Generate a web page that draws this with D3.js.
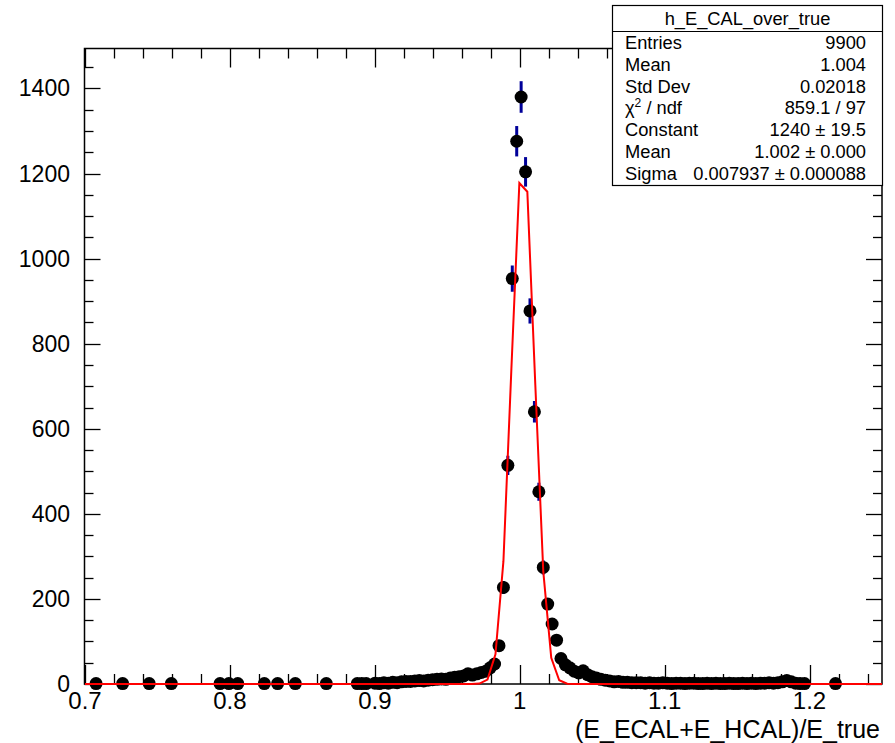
<!DOCTYPE html>
<html>
<head>
<meta charset="utf-8">
<script src="https://cdn.jsdelivr.net/npm/d3@7"></script>
<style>
  body { margin: 0; background: #fff; }
  text { font-family: "Liberation Sans", Arial, Helvetica, sans-serif; }
</style>
</head>
<body>
<div id="canvas"></div>
<script>
"use strict"

/* histogram definition */
const nBins = 180;
const xMin = 0.7;
const xMax = 1.25;

/* filled bins (index) and their contents */
const filledBins = [2, 8, 14, 19, 30, 32, 34, 40, 43, 47, 54, 61, 62, 63,
    65, 66, 67, 68, 69, 70, 71, 72, 73, 74, 75, 76, 77, 78, 79, 80, 81, 82, 83, 84, 85, 86, 87, 88, 89, 90, 91,
    92, 93, 94, 95, 96, 97, 98, 99, 100, 101, 102, 103, 104, 105, 106, 107,
    108, 109, 110, 111, 112, 113, 114, 115, 116, 117, 118, 119, 120, 121, 122, 123, 124, 125, 126, 127, 128, 129,
    130, 131, 132, 133, 134, 135, 136, 137, 138, 139, 140, 141, 142, 143, 144, 145, 146, 147, 148, 149,
    150, 151, 152, 153, 154, 155, 156, 157, 158, 159, 160, 161, 162, 169];
const counts = [1, 1, 1, 1, 1, 1, 1, 1, 1, 1, 1, 1, 1, 1,
    2, 1, 3, 2, 4, 3, 5, 6, 6, 7, 8, 7, 9, 10, 11, 12, 11, 14, 16, 17, 19, 24, 21, 24, 27, 30, 38,
    47, 90, 227, 514, 953, 1276, 1380, 1204, 877, 640, 452, 274, 188, 141, 103, 60,
    45, 38, 30, 26, 31, 22, 17, 14, 11, 9, 7, 5, 6, 4, 4, 3, 3, 3, 2, 3, 2, 2,
    3, 2, 1, 2, 2, 1, 2, 2, 1, 1, 2, 1, 2, 1, 1, 2, 1, 1, 2, 1,
    2, 1, 2, 2, 3, 2, 3, 5, 8, 5, 2, 1, 1, 1];

/* gaussian fit result: constant, mean, sigma */
const fitParams = [1240, 1.0023, 0.007937];
const fitNpx = 100;

/* axis ticks */
const xMajor = [0.7, 0.8, 0.9, 1.0, 1.1, 1.2];
const xLabels = ["0.7", "0.8", "0.9", "1", "1.1", "1.2"];
const yMajor = [0, 200, 400, 600, 800, 1000, 1200, 1400];

/* stat box */
const statTitle = "h_E_CAL_over_true";
const statNames = ["Entries", "Mean", "Std Dev", "chi2", "Constant", "Mean", "Sigma"];
const statValues = ["9900", "1.004", "0.02018", "859.1 / 97", "1240 \u00b1 19.5", "1.002 \u00b1 0.000", "0.007937 \u00b1 0.000088"];

const W = 895, H = 743;
const frameL = 84.5, frameR = 882, frameT = 48.5, frameB = 684;

let drawing = d3.select("#canvas")
    .append("svg")
    .attr("width", W)
    .attr("height", H);

let x = d3.scaleLinear().domain([xMin, xMax]).range([85, frameR]);
let y = d3.scaleLinear().domain([0, 1494]).range([frameB, frameT]);

//frame
drawing.append("rect")
    .attr("x", frameL).attr("y", frameT)
    .attr("width", frameR - frameL).attr("height", frameB - frameT)
    .attr("fill", "none").attr("stroke", "black").attr("stroke-width", 1.5);

//ticks on all four sides
let xMinor = d3.range(0, 28).map(k => xMin + k * 0.02);
let yMinor = d3.range(0, 30).map(k => k * 50);

let tickGroup = drawing.append("g").attr("stroke", "black").attr("stroke-width", 1.3);
xMinor.forEach(v => {
    let big = xMajor.some(m => Math.abs(m - v) < 1e-6);
    let len = big ? 19 : 10;
    let px = Math.round(x(v)) + 0.5;
    tickGroup.append("line").attr("x1", px).attr("x2", px).attr("y1", frameB).attr("y2", frameB - len);
    tickGroup.append("line").attr("x1", px).attr("x2", px).attr("y1", frameT).attr("y2", frameT + len);
});
yMinor.forEach(v => {
    if (y(v) < frameT) return;
    let big = v % 200 == 0;
    let len = big ? 16 : 9;
    let py = Math.round(y(v)) + 0.5;
    tickGroup.append("line").attr("x1", frameL).attr("x2", frameL + len).attr("y1", py).attr("y2", py);
    tickGroup.append("line").attr("x1", frameR).attr("x2", frameR - len).attr("y1", py).attr("y2", py);
});

//tick labels
drawing.append("g").selectAll("text")
    .data(yMajor)
    .join("text")
    .attr("x", 70)
    .attr("y", d => y(d) + 8)
    .attr("text-anchor", "end")
    .attr("font-size", 23)
    .text(d => d);

drawing.append("g").selectAll("text")
    .data(xMajor)
    .join("text")
    .attr("x", d => x(d))
    .attr("y", 709)
    .attr("text-anchor", "middle")
    .attr("font-size", 24)
    .text((d, i) => xLabels[i]);

//axis title
drawing.append("text")
    .attr("x", 880)
    .attr("y", 738)
    .attr("text-anchor", "end")
    .attr("font-size", 25)
    .text("(E_ECAL+E_HCAL)/E_true");

//histogram points with errors
let binW = (xMax - xMin) / nBins;
let points = filledBins.map((b, i) => ({ cx: xMin + (b + 0.5) * binW, n: counts[i] }));

drawing.append("g").selectAll("line")
    .data(points)
    .join("line")
    .attr("x1", d => x(d.cx)).attr("x2", d => x(d.cx))
    .attr("y1", d => y(d.n - Math.sqrt(d.n)))
    .attr("y2", d => y(d.n + Math.sqrt(d.n)))
    .attr("stroke", "#000099")
    .attr("stroke-width", 3);

drawing.append("g").selectAll("circle")
    .data(points)
    .join("circle")
    .attr("cx", d => x(d.cx))
    .attr("cy", d => y(d.n))
    .attr("r", 6.5)
    .attr("fill", "black");

//fit function, sampled like ROOT does (npx bin centres)
let fitDx = (xMax - xMin) / fitNpx;
let fitPts = d3.range(fitNpx).map(k => {
    let xv = xMin + (k + 0.5) * fitDx;
    let t = (xv - fitParams[1]) / fitParams[2];
    return [xv, fitParams[0] * Math.exp(-0.5 * t * t)];
});
fitPts.unshift([xMin, fitPts[0][1]]);
fitPts.push([xMax, fitPts[fitPts.length - 1][1]]);

drawing.append("path")
    .datum(fitPts)
    .attr("d", d3.line().x(d => x(d[0])).y(d => y(d[1])))
    .attr("fill", "none")
    .attr("stroke", "#ff0000")
    .attr("stroke-width", 2);

//stat box
let boxX = 612.5, boxY = 5.5, boxW = 270, boxH = 180;
let statFont = 18.3;
drawing.append("rect")
    .attr("x", boxX).attr("y", boxY).attr("width", boxW).attr("height", boxH)
    .attr("fill", "white").attr("stroke", "black").attr("stroke-width", 1.2);
drawing.append("line")
    .attr("x1", boxX).attr("x2", boxX + boxW).attr("y1", 31.5).attr("y2", 31.5)
    .attr("stroke", "black").attr("stroke-width", 1.2);
drawing.append("text")
    .attr("x", boxX + boxW / 2).attr("y", 25)
    .attr("text-anchor", "middle").attr("font-size", statFont)
    .text(statTitle);

statNames.forEach((name, i) => {
    let by = 49 + i * 21.8;
    let t = drawing.append("text").attr("x", 625).attr("y", by).attr("font-size", statFont);
    if (name == "chi2") {
        t.append("tspan").text("\u03c7");
        t.append("tspan").attr("dy", -7).attr("font-size", 12).text("2");
        t.append("tspan").attr("dy", 7).text(" / ndf");
    } else {
        t.text(name);
    }
    drawing.append("text")
        .attr("x", 866).attr("y", by)
        .attr("text-anchor", "end").attr("font-size", statFont)
        .text(statValues[i]);
});
</script>
</body>
</html>
